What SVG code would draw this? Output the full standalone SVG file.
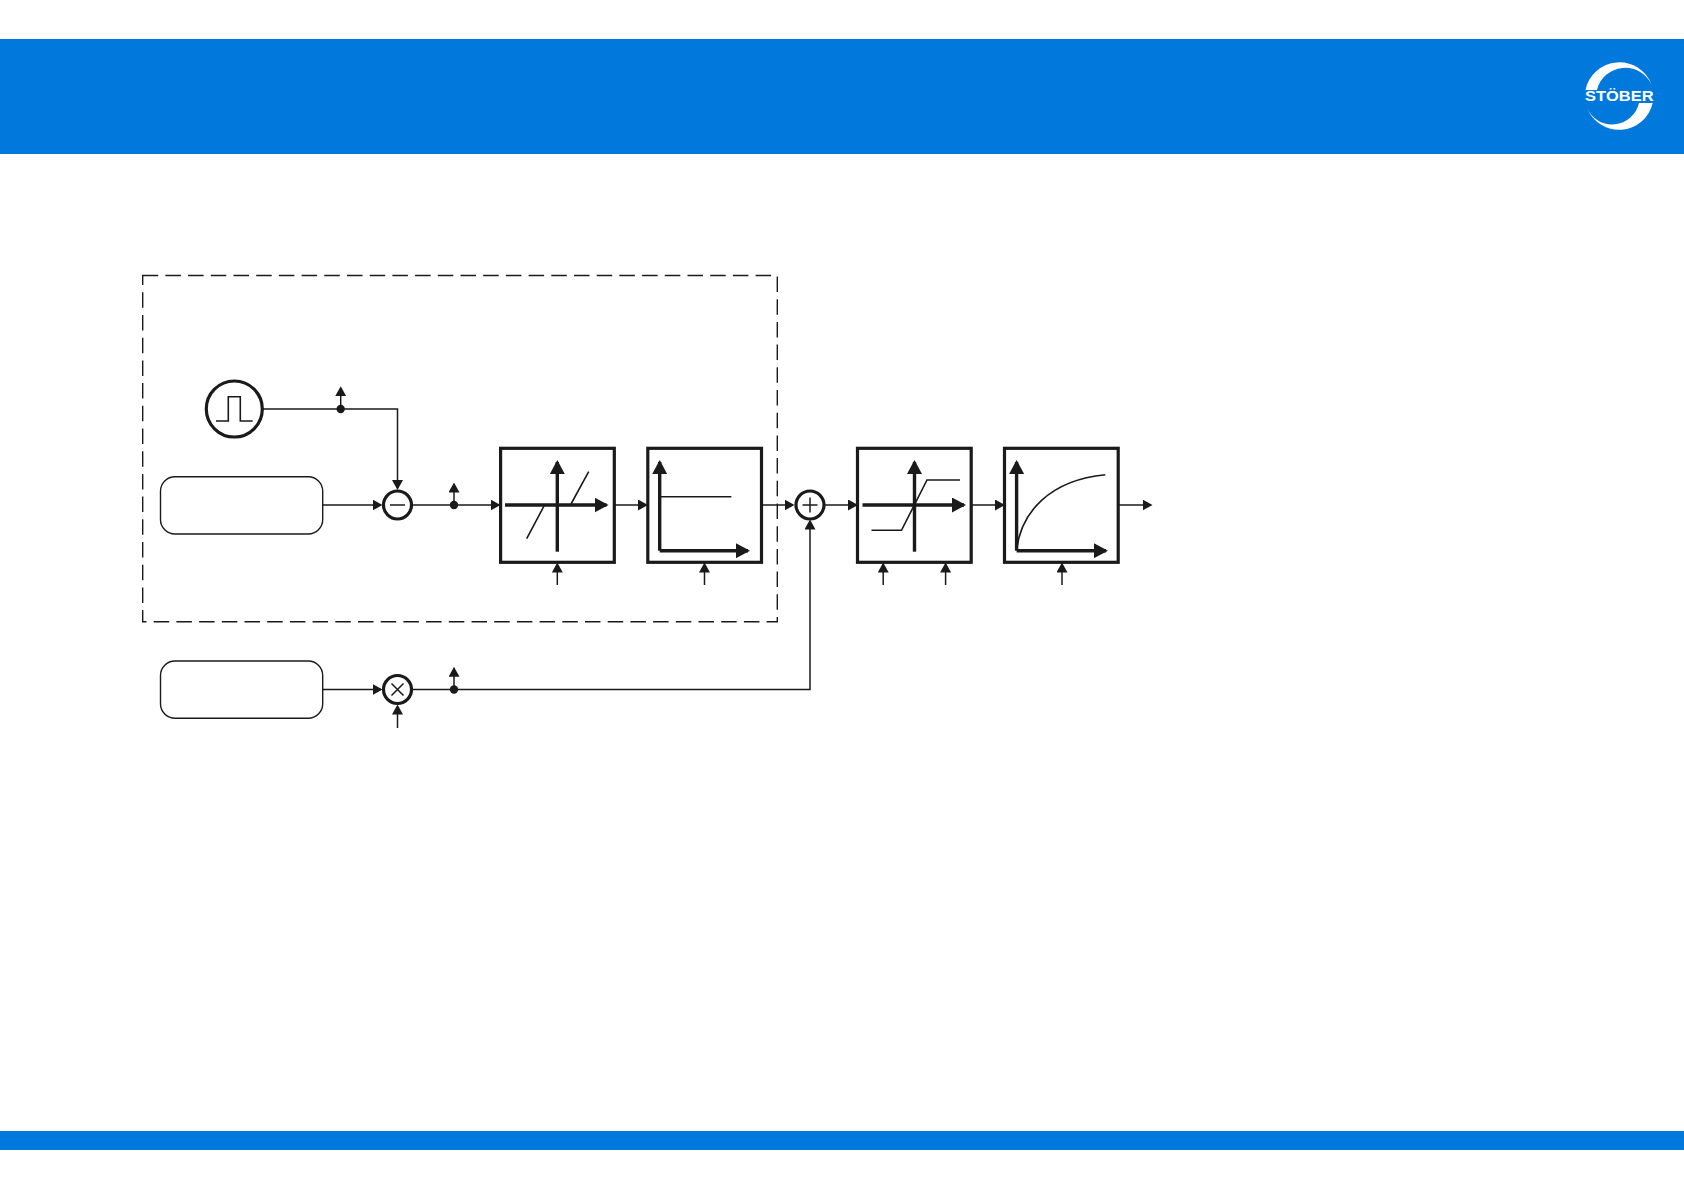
<svg xmlns="http://www.w3.org/2000/svg" width="1684" height="1190" viewBox="0 0 1684 1190">
<style>
.band{fill:#0078dc}
.w{fill:none;stroke:#1a1a1a;stroke-width:1.5}
.a{marker-end:url(#ah)}
.block{fill:#fff;stroke:#1a1a1a;stroke-width:3.2}
.ax{fill:none;stroke:#1a1a1a;stroke-width:3.4;marker-end:url(#big)}
.c{fill:none;stroke:#1a1a1a;stroke-width:1.6}
.circ{fill:#fff;stroke:#1a1a1a;stroke-width:3.2}
.src{fill:#fff;stroke:#1a1a1a;stroke-width:1.4}
.dot{fill:#1a1a1a}
</style>
<defs>
<marker id="ah" markerUnits="userSpaceOnUse" markerWidth="10" markerHeight="11" viewBox="0 0 10 11" refX="8" refY="5.5" orient="auto"><path d="M0,0 L10,5.5 L0,11 Z" fill="#1a1a1a"/></marker>
<marker id="big" markerUnits="userSpaceOnUse" markerWidth="14" markerHeight="15" viewBox="0 0 14 15" refX="12" refY="7.5" orient="auto"><path d="M0,0 L14,7.5 L0,15 Z" fill="#1a1a1a"/></marker>
</defs>
<rect width="1684" height="1190" fill="#fff"/>
<g id="header"><rect class="band" x="0" y="39" width="1684" height="115"/></g>
<g id="footer"><rect class="band" x="0" y="1131" width="1684" height="19"/></g>
<g id="logo" fill="#fff">
<path d="M1585.5,90 A34.5,34.5 0 0 1 1651.7,85 A29,29 0 0 0 1597,90 Z"/>
<path d="M1652.7,103 A34.5,34.5 0 0 1 1587,108 A27.5,27.5 0 0 0 1639,103 Z"/>
<text x="1585" y="101" font-family="'Liberation Sans',Arial,sans-serif" font-weight="700" font-size="14.5" textLength="68.5" lengthAdjust="spacingAndGlyphs">STÖBER</text>
</g>
<g id="boundary"><rect x="142.7" y="275.5" width="634.6" height="346.3" fill="none" stroke="#1a1a1a" stroke-width="1.4" stroke-dasharray="15.5 7.2"/></g>
<g id="connectors">
<path class="w a" d="M263,409 H397.5 V488"/>
<path class="w a" d="M340.7,409 V388.2"/>
<path class="w a" d="M322.7,505 H380.5"/>
<path class="w a" d="M412,505 H498.5"/>
<path class="w a" d="M454,505 V484.5"/>
<path class="w a" d="M614,505 H646"/>
<path class="w a" d="M761.5,505 H792.5"/>
<path class="w a" d="M825,505 H856"/>
<path class="w a" d="M971,505 H1003"/>
<path class="w a" d="M1118,505 H1150.5"/>
<path class="w a" d="M322.7,689.5 H380.5"/>
<path class="w a" d="M412,689.5 H810 V521.5"/>
<path class="w a" d="M454,689.5 V668.8"/>
<path class="w a" d="M397.5,728 V706.5"/>
<path class="w a" d="M557.3,585 V564.5"/>
<path class="w a" d="M704.5,585 V564.5"/>
<path class="w a" d="M883.2,585 V564.5"/>
<path class="w a" d="M945.6,585 V564.5"/>
<path class="w a" d="M1062,585 V564.5"/>
<circle class="dot" cx="340.7" cy="409" r="4.2"/>
<circle class="dot" cx="454" cy="505" r="4.2"/>
<circle class="dot" cx="454" cy="689.5" r="4.2"/>
</g>
<g id="pulse"><circle class="circ" cx="234.3" cy="409" r="28"/><path class="c" d="M216,421 H228.3 V396.7 H240.3 V421 H252.7"/></g>
<g id="source-1"><rect class="src" x="160.5" y="476.7" width="162.2" height="57.3" rx="14.5"/></g>
<g id="source-2"><rect class="src" x="160.5" y="661" width="162.2" height="57.3" rx="14.5"/></g>
<g id="minus"><circle class="circ" cx="397.5" cy="505" r="14"/><path class="w" d="M390,505 H405"/></g>
<g id="multiply"><circle class="circ" cx="397.5" cy="689.5" r="14"/><path class="w" d="M391.5,683.5 L403.5,695.5 M403.5,683.5 L391.5,695.5"/></g>
<g id="plus"><circle class="circ" cx="810" cy="505" r="14"/><path class="w" d="M802.5,505 H817.5 M810,497.5 V512.5"/></g>
<g id="deadband">
<rect class="block" x="500.6" y="448.3" width="113.7" height="114"/>
<path class="ax" d="M505,505 H606.5"/>
<path class="ax" d="M557.3,551.7 V462"/>
<path class="c" d="M526.7,538.7 L544,506 M571,504 L588.7,471.7"/>
</g>
<g id="gain">
<rect class="block" x="647.8" y="448.3" width="113.7" height="114"/>
<path class="ax" d="M659.7,550.7 H748"/>
<path class="ax" d="M659.7,550.7 V462"/>
<path class="c" d="M660,496.7 H731.4" stroke-width="1.8"/>
</g>
<g id="limiter">
<rect class="block" x="857.5" y="448.3" width="113.7" height="114"/>
<path class="ax" d="M862.5,505 H964"/>
<path class="ax" d="M914.5,551.7 V462"/>
<path class="c" d="M871.5,530.3 H901.5 L927,480 H960"/>
</g>
<g id="lowpass">
<rect class="block" x="1004.5" y="448.3" width="113.7" height="114"/>
<path class="ax" d="M1016.6,550.7 H1106"/>
<path class="ax" d="M1016.6,550.7 V462"/>
<path class="c" d="M1016.6,550 C1021,512 1050,480 1105.3,474.7"/>
</g>
</svg>
